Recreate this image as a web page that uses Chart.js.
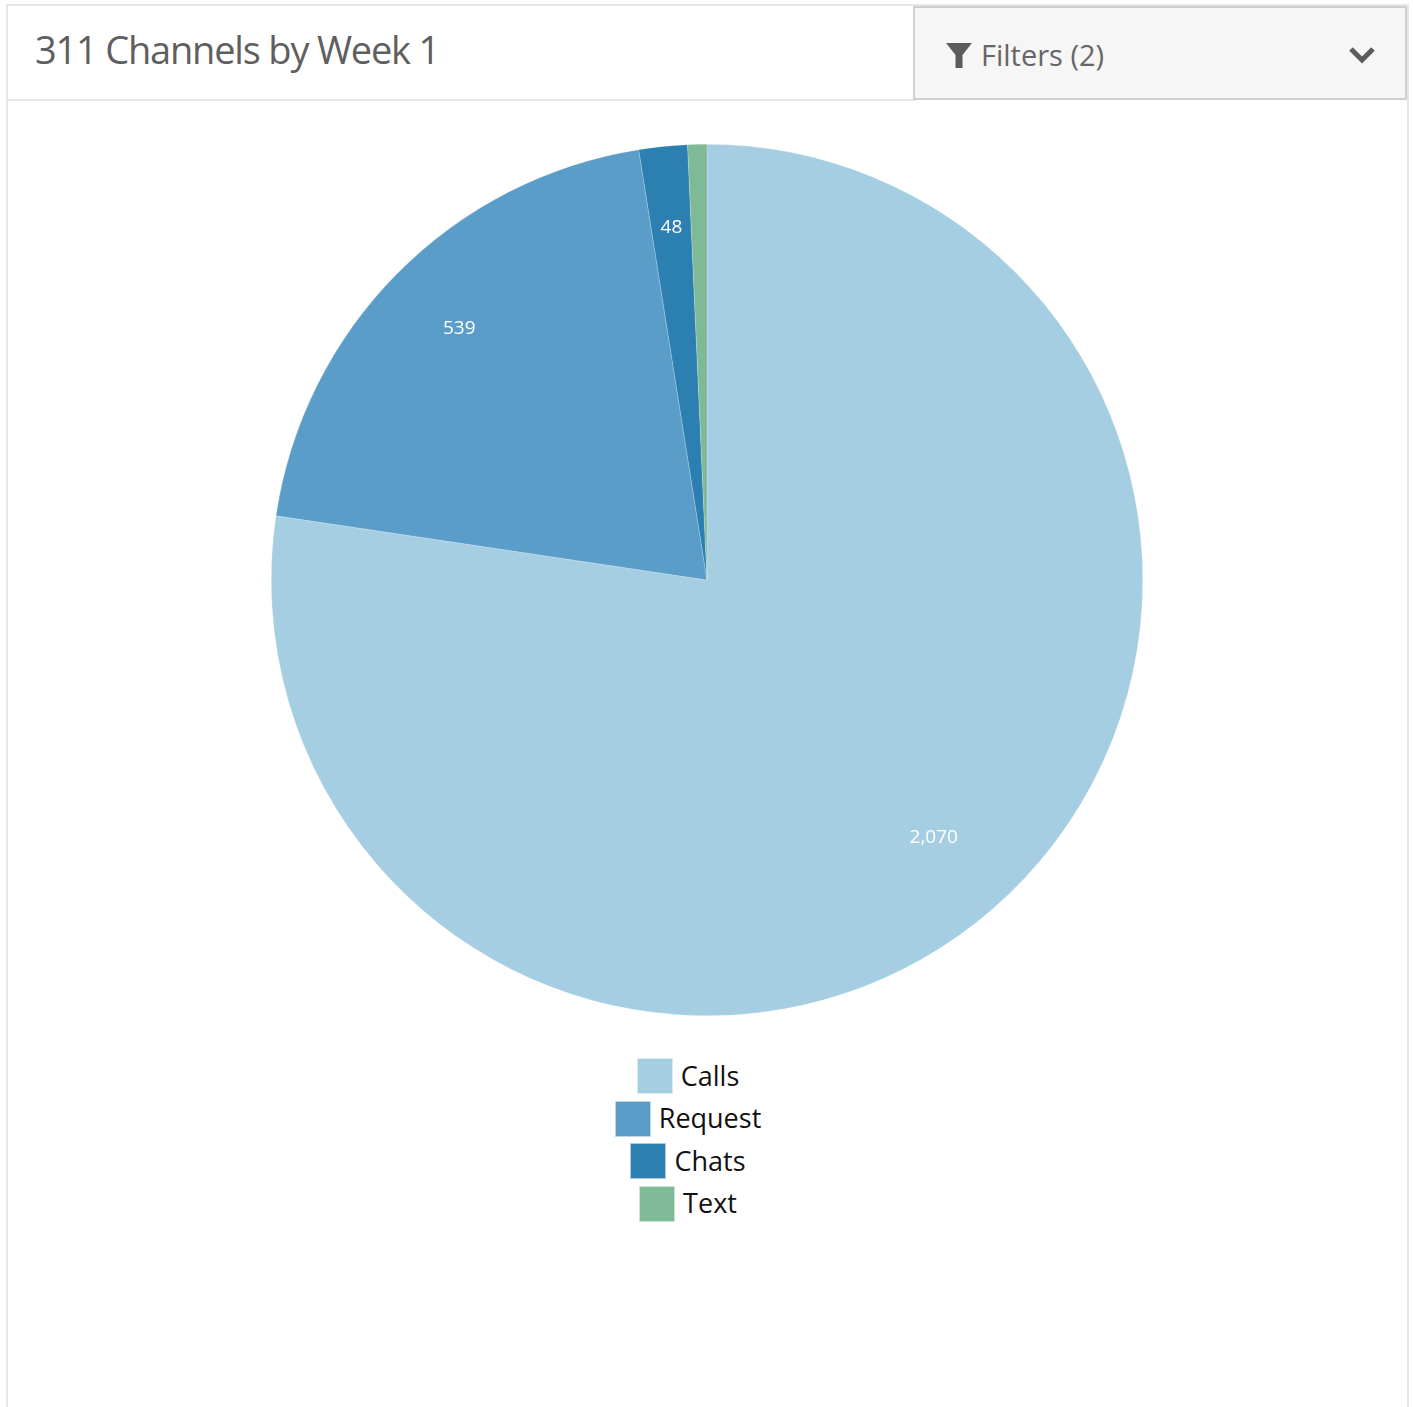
<!DOCTYPE html>
<html>
<head>
<meta charset="utf-8">
<title>311 Channels by Week 1</title>
<script src="https://cdn.jsdelivr.net/npm/chart.js@4/dist/chart.umd.min.js"></script>
<style>
    html, body { margin: 0; padding: 0; background: #fff; }
    body { position: relative; width: 1413px; height: 1407px; overflow: hidden; font-family: "Open Sans", sans-serif; }
    #card { position: absolute; left: 6px; top: 4px; width: 1399px; height: 1420px; border: 2px solid #e6e6e6; }
    #headerLine { position: absolute; left: 6px; top: 99px; width: 910px; height: 2px; background: #e6e6e6; }
    #title { position: absolute; left: 35px; top: 23px; font-size: 38px; line-height: 52px; color: #5f5f5f; letter-spacing: -1.2px; white-space: nowrap; }
    #filters { position: absolute; left: 913px; top: 6px; width: 490px; height: 90px; background: #f6f6f6; border: 2px solid #cfcfcf; }
    #filterText { position: absolute; left: 981px; top: 35px; font-size: 29px; line-height: 40px; color: #666; white-space: nowrap; }
    #funnel { position: absolute; left: 946px; top: 43px; }
    #chevron { position: absolute; left: 1348px; top: 46px; }
    #chartParent { position: absolute; left: 7px; top: 144px; width: 1400px; height: 872px; }
    #legend { position: absolute; left: -12px; top: 1055px; width: 1400px; }
    .legendRow { display: flex; justify-content: center; align-items: center; height: 42.5px; font-size: 27px; color: #111; }
    .legendRow span { position: relative; top: -1px; }
    .legendBox { width: 36px; height: 36px; margin-right: 8px; border: 0.5px solid rgba(255,255,255,.6); box-sizing: border-box; }
</style>
</head>
<body>
<div id="card"></div>
<div id="headerLine"></div>
<div id="title">311 Channels by Week 1</div>
<div id="filters"></div>
<svg id="funnel" width="26" height="26" viewBox="0 0 26 26"><path d="M0 0H26L16.5 12V25H9.5V12Z" fill="#5c5c5c"/></svg>
<div id="filterText">Filters (2)</div>
<svg id="chevron" width="28" height="18" viewBox="0 0 28 18"><path d="M3 3L14 14L25 3" fill="none" stroke="#5c5c5c" stroke-width="5"/></svg>
<div id="chartParent"><canvas id="chart1" width="1400" height="872"></canvas></div>
<div id="legend"></div>
<script>
const labels = ['Calls', 'Request', 'Chats', 'Text'];
const values = [2070, 539, 48, 19];
const colors = ['#a6cee3', '#5b9dc9', '#2b7fb1', '#7fba96'];
const shownLabels = [true, true, true, false];

// value labels inside the slices
const sliceLabels = {
    id: 'sliceLabels',
    afterDatasetsDraw(chart) {
        const ctx = chart.ctx;
        const distance = [0.79, 0.81, 0.81, 0.81];
        const nudgeX = [2, 3, 0, 0];
        const nudgeY = [-3, -3, -1, 0];
        ctx.save();
        ctx.font = '19px "Open Sans"';
        ctx.fillStyle = '#fff';
        ctx.textAlign = 'center';
        ctx.textBaseline = 'middle';
        chart.getDatasetMeta(0).data.forEach((arc, i) => {
            if (!shownLabels[i]) return;
            const p = arc.getProps(['x', 'y', 'startAngle', 'endAngle', 'outerRadius']);
            const mid = (p.startAngle + p.endAngle) / 2;
            const r = p.outerRadius * distance[i];
            ctx.fillText(values[i].toLocaleString('en-US'), p.x + Math.cos(mid) * r + nudgeX[i], p.y + Math.sin(mid) * r + nudgeY[i]);
        });
        ctx.restore();
    }
};

new Chart(document.getElementById('chart1'), {
    type: 'pie',
    data: {
        labels: labels,
        datasets: [{
            data: values,
            backgroundColor: colors,
            borderColor: 'rgba(255,255,255,0.4)',
            borderWidth: 0.5
        }]
    },
    options: {
        responsive: false,
        animation: false,
        devicePixelRatio: 1,
        plugins: { legend: { display: false }, tooltip: { enabled: false } }
    },
    plugins: [sliceLabels]
});

// legend is stacked and centred
const legend = document.getElementById('legend');
labels.forEach((label, i) => {
    const row = document.createElement('div');
    row.className = 'legendRow';
    const box = document.createElement('div');
    box.className = 'legendBox';
    box.style.background = colors[i];
    const text = document.createElement('span');
    text.textContent = label;
    row.appendChild(box);
    row.appendChild(text);
    legend.appendChild(row);
});
</script>
</body>
</html>
